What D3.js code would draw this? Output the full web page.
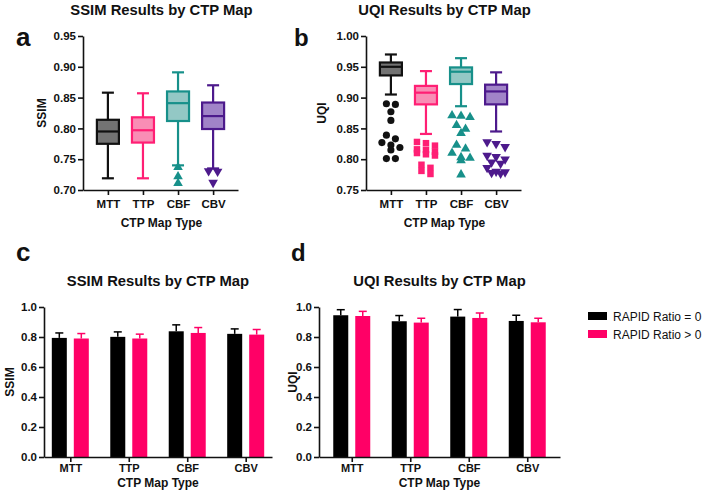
<!DOCTYPE html>
<html>
<head>
<meta charset="utf-8">
<script src="https://cdn.jsdelivr.net/npm/d3@7"></script>
<style>
  body { margin: 0; background: #fff; }
  svg { display: block; font-family: Arial, "Liberation Sans", sans-serif; }
</style>
</head>
<body>
<script>
// categories
const mapTypes = ["MTT", "TTP", "CBF", "CBV"];

// panel a: SSIM box plot stats (whisker low, Q1, median, Q3, whisker high)
const ssimLow    = [0.719, 0.719, 0.740, 0.735];
const ssimQ1     = [0.775, 0.777, 0.812, 0.799];
const ssimMedian = [0.795, 0.797, 0.841, 0.820];
const ssimQ3     = [0.814, 0.818, 0.860, 0.842];
const ssimHigh   = [0.858, 0.857, 0.891, 0.870];
const ssimOutliers = [[], [], [0.737, 0.722, 0.711], [0.731, 0.730, 0.712]];

// panel b: UQI box plot stats
const uqiLow    = [0.905, 0.841, 0.886, 0.845];
const uqiQ1     = [0.936, 0.889, 0.922, 0.889];
const uqiMedian = [0.950, 0.908, 0.942, 0.910];
const uqiQ3     = [0.957, 0.919, 0.949, 0.921];
const uqiHigh   = [0.970, 0.943, 0.964, 0.941];
const uqiOutliers = [
  [0.890, 0.889, 0.877, 0.863, 0.839, 0.833, 0.827, 0.823, 0.819, 0.815, 0.801, 0.801],
  [0.828, 0.826, 0.822, 0.816, 0.815, 0.812, 0.810, 0.808, 0.806, 0.791, 0.786, 0.781, 0.776],
  [0.871, 0.870, 0.868, 0.855, 0.849, 0.842, 0.823, 0.817, 0.810, 0.803, 0.802, 0.798, 0.775],
  [0.828, 0.825, 0.820, 0.806, 0.804, 0.800, 0.795, 0.793, 0.786, 0.780, 0.779, 0.778, 0.777]
];

// panels c/d: mean and SD by RAPID ratio group
const groups = ["RAPID Ratio = 0", "RAPID Ratio > 0"];
const ssimMeanZero = [0.794, 0.801, 0.838, 0.821];
const ssimSdZero   = [0.033, 0.033, 0.043, 0.033];
const ssimMeanPos  = [0.790, 0.790, 0.827, 0.816];
const ssimSdPos    = [0.033, 0.029, 0.036, 0.034];
const uqiMeanZero  = [0.945, 0.905, 0.936, 0.907];
const uqiSdZero    = [0.037, 0.038, 0.047, 0.038];
const uqiMeanPos   = [0.940, 0.896, 0.927, 0.898];
const uqiSdPos     = [0.031, 0.029, 0.033, 0.027];

const W = 708, H = 501;
const svg = d3.select("body").append("svg").attr("width", W).attr("height", H);

// colours per map type: box fill, stroke
const boxFill   = ["#737373", "#f98db5", "#93c8c5", "#a184c8"];
const boxStroke = ["#111111", "#ff1f74", "#17908a", "#4d1a8c"];
const pink = "#ff0066";
const markerTypes = [d3.symbolCircle, d3.symbolSquare, d3.symbolTriangle, d3.symbolTriangle];

function styleAxis(g, size = 11.5) {
  g.selectAll("path, line").attr("stroke", "#111").attr("stroke-width", 1.6);
  g.selectAll("text").attr("fill", "#111").attr("font-size", size).attr("font-weight", "bold");
}

function addText(x, y, txt, size, opts = {}) {
  const t = svg.append("text")
    .attr("x", x).attr("y", y)
    .attr("text-anchor", opts.anchor || "middle")
    .attr("font-size", size)
    .attr("font-weight", opts.weight || "bold")
    .attr("fill", "#111")
    .text(txt);
  if (opts.rotate) t.attr("transform", `rotate(-90,${x},${y})`);
  return t;
}

// rows of outliers so close points sit side by side
function dodge(values, y, spacing) {
  const sorted = values.slice().sort((a, b) => b - a);
  const rows = [];
  sorted.forEach(v => {
    const row = rows[rows.length - 1];
    if (row && row.length < 3 && Math.abs(y(row[0]) - y(v)) < 5) row.push(v);
    else rows.push([v]);
  });
  const out = [];
  rows.forEach(row => row.forEach((v, i) => out.push({v, dx: (i - (row.length - 1) / 2) * spacing})));
  return out;
}

function boxPanel({xRange, yRange, domain, ticks, low, q1, med, q3, high, outliers, yLabel, labelX, title}) {
  const x = d3.scalePoint().domain(mapTypes).range(xRange).padding(0.71);
  const y = d3.scaleLinear().domain(domain).range(yRange);

  svg.append("g").attr("transform", `translate(0,${yRange[0]})`)
    .call(d3.axisBottom(x).tickSize(5).tickPadding(5).tickSizeOuter(0))
    .call(styleAxis);
  svg.append("g").attr("transform", `translate(${xRange[0]},0)`)
    .call(d3.axisLeft(y).tickValues(ticks).tickFormat(d3.format(".2f")).tickSize(5).tickPadding(2).tickSizeOuter(0))
    .call(styleAxis);

  const boxW = 22, capW = 12;
  mapTypes.forEach((m, i) => {
    const cx = x(m);
    const g = svg.append("g").attr("stroke", boxStroke[i]).attr("stroke-width", 2.2).attr("fill", "none");
    g.append("line").attr("x1", cx).attr("x2", cx).attr("y1", y(high[i])).attr("y2", y(q3[i]));
    g.append("line").attr("x1", cx).attr("x2", cx).attr("y1", y(q1[i])).attr("y2", y(low[i]));
    g.append("line").attr("x1", cx - capW / 2).attr("x2", cx + capW / 2).attr("y1", y(high[i])).attr("y2", y(high[i]));
    g.append("line").attr("x1", cx - capW / 2).attr("x2", cx + capW / 2).attr("y1", y(low[i])).attr("y2", y(low[i]));
    g.append("rect").attr("x", cx - boxW / 2).attr("width", boxW)
      .attr("y", y(q3[i])).attr("height", y(q1[i]) - y(q3[i]))
      .attr("fill", boxFill[i]);
    g.append("line").attr("x1", cx - boxW / 2).attr("x2", cx + boxW / 2).attr("y1", y(med[i])).attr("y2", y(med[i]));

    const sym = d3.symbol().type(markerTypes[i]).size(i === 1 ? 42 : 40);
    svg.append("g").selectAll("path")
      .data(dodge(outliers[i], y, 9))
      .join("path")
      .attr("d", sym)
      .attr("transform", d => `translate(${cx + d.dx},${y(d.v)})${i === 3 ? " rotate(180)" : ""}`)
      .attr("fill", boxStroke[i]);
  });

  const mid = (xRange[0] + xRange[1]) / 2;
  addText(mid + 1, 15, title, 14.8);
  addText(labelX, (yRange[0] + yRange[1]) / 2, yLabel, 12, {rotate: true});
  addText(mid + 1, yRange[0] + 37, "CTP Map Type", 12);
}

function barPanel({xRange, pad, yLabel, labelX, title, meanZero, sdZero, meanPos, sdPos}) {
  const yRange = [457, 307];
  const x = d3.scalePoint().domain(mapTypes).range(xRange).padding(pad);
  const sub = d3.scaleBand().domain(groups).range([-18.5, 18.5]).paddingInner(0.318);
  const y = d3.scaleLinear().domain([0, 1]).range(yRange);

  const rows = [];
  mapTypes.forEach((m, i) => {
    rows.push({m, g: groups[0], mean: meanZero[i], sd: sdZero[i], color: "#000"});
    rows.push({m, g: groups[1], mean: meanPos[i], sd: sdPos[i], color: pink});
  });

  const bars = svg.append("g").selectAll("g").data(rows).join("g");
  bars.append("rect")
    .attr("x", d => x(d.m) + sub(d.g))
    .attr("width", sub.bandwidth())
    .attr("y", d => y(d.mean))
    .attr("height", d => y(0) - y(d.mean))
    .attr("fill", d => d.color);
  bars.append("line")
    .attr("x1", d => x(d.m) + sub(d.g) + sub.bandwidth() / 2)
    .attr("x2", d => x(d.m) + sub(d.g) + sub.bandwidth() / 2)
    .attr("y1", d => y(d.mean)).attr("y2", d => y(d.mean + d.sd))
    .attr("stroke", d => d.color).attr("stroke-width", 1.5);
  bars.append("line")
    .attr("x1", d => x(d.m) + sub(d.g) + sub.bandwidth() / 2 - 4)
    .attr("x2", d => x(d.m) + sub(d.g) + sub.bandwidth() / 2 + 4)
    .attr("y1", d => y(d.mean + d.sd)).attr("y2", d => y(d.mean + d.sd))
    .attr("stroke", d => d.color).attr("stroke-width", 1.5);

  svg.append("g").attr("transform", `translate(0,${yRange[0]})`)
    .call(d3.axisBottom(x).tickSize(5).tickPadding(2).tickSizeOuter(0))
    .call(g => styleAxis(g, 11));
  svg.append("g").attr("transform", `translate(${xRange[0]},0)`)
    .call(d3.axisLeft(y).ticks(5).tickFormat(d3.format(".1f")).tickSize(5).tickPadding(2).tickSizeOuter(0))
    .call(styleAxis);

  const mid = (xRange[0] + xRange[1]) / 2;
  addText(mid, 286, title, 14.8);
  addText(labelX, (yRange[0] + yRange[1]) / 2, yLabel, 12, {rotate: true});
  addText(mid, 487, "CTP Map Type", 12);
}

// panel letters
addText(16, 46, "a", 26, {anchor: "start"});
addText(294, 46, "b", 24, {anchor: "start"});
addText(16, 261, "c", 26, {anchor: "start"});
addText(291, 261, "d", 24, {anchor: "start"});

boxPanel({xRange: [83, 238], yRange: [190, 36], domain: [0.70, 0.95],
  ticks: d3.range(0.70, 0.951, 0.05), low: ssimLow, q1: ssimQ1, med: ssimMedian, q3: ssimQ3,
  high: ssimHigh, outliers: ssimOutliers, yLabel: "SSIM", labelX: 46, title: "SSIM Results by CTP Map"});
boxPanel({xRange: [366, 521], yRange: [190, 36], domain: [0.75, 1.00],
  ticks: d3.range(0.75, 1.001, 0.05), low: uqiLow, q1: uqiQ1, med: uqiMedian, q3: uqiQ3,
  high: uqiHigh, outliers: uqiOutliers, yLabel: "UQI", labelX: 326, title: "UQI Results by CTP Map"});

barPanel({xRange: [44, 272], pad: 0.45, yLabel: "SSIM", labelX: 14, title: "SSIM Results by CTP Map",
  meanZero: ssimMeanZero, sdZero: ssimSdZero, meanPos: ssimMeanPos, sdPos: ssimSdPos});
barPanel({xRange: [319, 560], pad: 0.56, yLabel: "UQI", labelX: 297, title: "UQI Results by CTP Map",
  meanZero: uqiMeanZero, sdZero: uqiSdZero, meanPos: uqiMeanPos, sdPos: uqiSdPos});

// legend
const legend = svg.append("g").selectAll("g").data(groups).join("g")
  .attr("transform", (d, i) => `translate(588,${312 + i * 18})`);
legend.append("rect").attr("width", 19).attr("height", 8).attr("fill", (d, i) => i ? pink : "#000");
legend.append("text").attr("x", 25).attr("y", 8.5).attr("font-size", 12).attr("fill", "#111").text(d => d);
</script>
</body>
</html>
